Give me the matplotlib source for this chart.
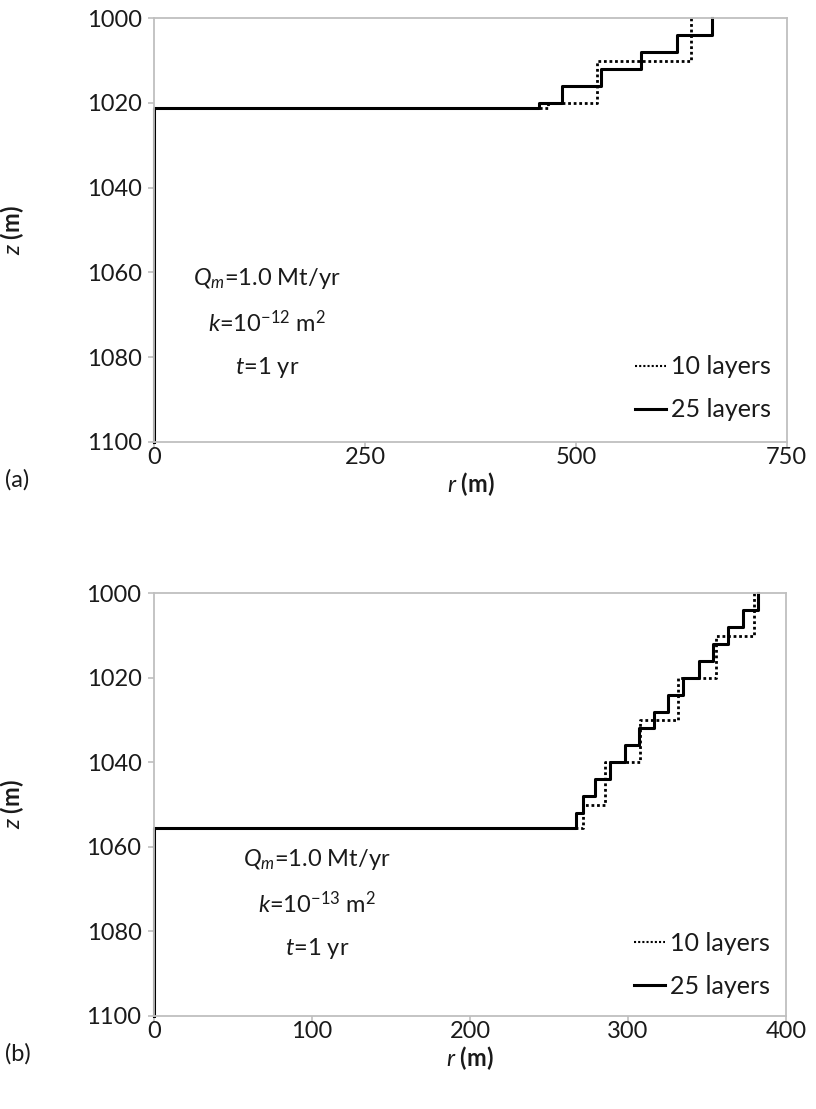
import matplotlib
matplotlib.use('Agg')
import matplotlib.pyplot as plt
from matplotlib.lines import Line2D

plt.rcParams['font.family'] = ['Lato', 'DejaVu Sans']
plt.rcParams['mathtext.fontset'] = 'custom'
plt.rcParams['mathtext.rm'] = 'Lato'
plt.rcParams['mathtext.it'] = 'Lato:italic'
plt.rcParams['mathtext.bf'] = 'Lato:bold'

# ---- data (r in m, z in m) ----
# panel (a): k = 1e-12 m2
a_z_25 = [1000, 1004, 1008, 1012, 1016, 1020, 1021.3]
a_r_25 = [662, 619.5, 577, 530, 483, 456.5]
a_z_10 = [1000, 1010, 1020, 1021.3]
a_r_10 = [637, 524.5, 467]
# panel (b): k = 1e-13 m2
b_z_25 = [1000, 1004, 1008, 1012, 1016, 1020, 1024, 1028, 1032, 1036,
          1040, 1044, 1048, 1052, 1055.5]
b_r_25 = [382.5, 373, 363.5, 354, 345, 334.6, 325.5, 316.7, 307.2, 298.1,
          288.5, 279.1, 271.7, 266.9]
b_z_10 = [1000, 1010, 1020, 1030, 1040, 1050, 1055.5]
b_r_10 = [379.7, 355.5, 331.8, 307.6, 285.4, 271.7]

a_xticks = [0, 250, 500, 750]
b_xticks = [0, 100, 200, 300, 400]
yticks = [1000, 1020, 1040, 1060, 1080, 1100]
z_bottom = 1100


def front(z_edges, radii):
    rs, zs = [], []
    for i, r in enumerate(radii):
        rs += [r, r]
        zs += [z_edges[i], z_edges[i + 1]]
    rs += [0, 0]
    zs += [z_edges[-1], z_bottom]
    return rs, zs


W, H = 816, 1109
fig = plt.figure(figsize=(W / 100, H / 100), dpi=100)

FS = 17
GRAY = '#bfbfbf'
TXT = '#1a1a1a'


def style(ax, xmax, xticks):
    ax.set_xlim(0, xmax)
    ax.set_ylim(1100, 1000)
    ax.set_xticks(xticks)
    ax.set_yticks(yticks)
    for s in ax.spines.values():
        s.set_color(GRAY)
        s.set_linewidth(1.3)
    ax.tick_params(axis='both', direction='out', length=4, width=1.2,
                   color=GRAY, labelsize=FS, labelcolor=TXT)
    ax.tick_params(axis='x', pad=0)
    ax.tick_params(axis='y', pad=5)
    ax.set_ylabel(r'$\mathbf{\mathit{z}}$ (m)', fontsize=FS, fontweight='bold',
                  color=TXT, va='center')
    ax.yaxis.set_label_coords(-0.225, 0.5)
    ax.set_xlabel(r'$\mathbf{\mathit{r}}$ (m)', fontsize=FS, fontweight='bold',
                  color=TXT, va='center')


def panel(rect, z25, r25, z10, r10, xmax, xticks, kexp, txt_x, txt_y,
          leg_anchor, tag):
    ax = fig.add_axes(rect)
    r, z = front(z10, r10)
    ax.plot(r, z, color='black', lw=2.0, linestyle=(0, (1, 1)),
            label='10 layers', clip_on=False)
    r, z = front(z25, r25)
    ax.plot(r, z, color='black', lw=2.2, label='25 layers', clip_on=False)
    style(ax, xmax, xticks)
    ax_h = rect[3] * H
    ax.xaxis.set_label_coords(0.5, -42 / ax_h)
    t_kw = dict(transform=ax.transAxes, ha='center', va='center', fontsize=FS,
                color=TXT)
    ax.text(txt_x, txt_y[0], r'$Q_m$=1.0 Mt/yr', **t_kw)
    ax.text(txt_x, txt_y[1], r'$k$=10$^{\mathrm{-' + kexp + r'}}$ m$^2$', **t_kw)
    ax.text(txt_x, txt_y[2], r'$t$=1 yr', **t_kw)
    handles = [Line2D([], [], color='black', lw=1.5, linestyle=(0, (1, 1))),
               Line2D([], [], color='black', lw=2.2)]
    ax.legend(handles, ['10 layers', '25 layers'], loc='lower right',
              bbox_to_anchor=leg_anchor, frameon=False, fontsize=18,
              handlelength=1.25, handletextpad=0.2, labelspacing=0.8,
              borderpad=0, borderaxespad=0, labelcolor=TXT)
    fig.text(0.006, rect[1] - 38 / H, tag, fontsize=FS, ha='left',
             va='center', color=TXT)
    return ax


rect_a = [154.3 / W, 1 - 441.7 / H, 632.4 / W, 423.4 / H]
rect_b = [154.0 / W, 1 - 1015.7 / H, 632.0 / W, 422.4 / H]

panel(rect_a, a_z_25, a_r_25, a_z_10, a_r_10, 750, a_xticks, '12', 0.178,
      (0.385, 0.28, 0.175), (0.975, 0.048), '(a)')
panel(rect_b, b_z_25, b_r_25, b_z_10, b_r_10, 400, b_xticks, '13', 0.258,
      (0.37, 0.265, 0.16), (0.975, 0.043), '(b)')

fig.savefig('out.png', dpi=100)
